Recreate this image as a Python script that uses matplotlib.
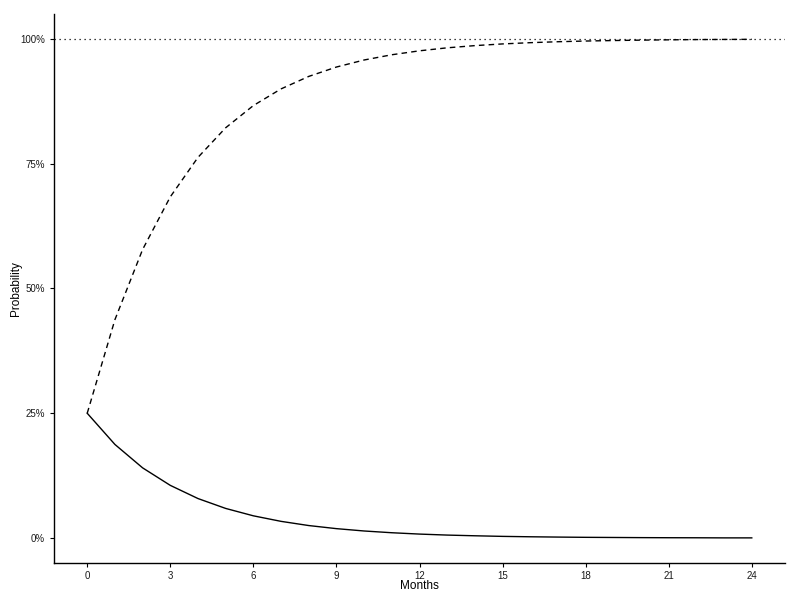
import matplotlib
matplotlib.use("Agg")
import matplotlib.pyplot as plt
from matplotlib.ticker import PercentFormatter

months = list(range(25))
solid_series = [0.25, 0.1875, 0.1406, 0.1055, 0.0791, 0.0593, 0.0445, 0.0334, 0.0250,
                0.0188, 0.0141, 0.0106, 0.0079, 0.0059, 0.0045, 0.0033, 0.0025, 0.0019,
                0.0014, 0.0011, 0.0008, 0.0006, 0.0005, 0.0003, 0.0003]
dashed_series = [0.25, 0.4375, 0.5781, 0.6836, 0.7627, 0.8220, 0.8665, 0.8999, 0.9249,
                 0.9437, 0.9578, 0.9683, 0.9762, 0.9822, 0.9866, 0.9900, 0.9925, 0.9944,
                 0.9958, 0.9968, 0.9976, 0.9982, 0.9987, 0.9990, 0.9992]
x_ticks = [0, 3, 6, 9, 12, 15, 18, 21, 24]
y_ticks = [0, 0.25, 0.5, 0.75, 1.0]
ref_level = 1.0

plt.rcParams['font.family'] = ['Liberation Sans', 'DejaVu Sans']
fig = plt.figure(figsize=(8, 6), dpi=100)
ax = fig.add_axes([0.0675, 0.0617, 0.91375, 0.915])

ax.axhline(ref_level, color='black', linestyle=(0, (1, 3)), linewidth=0.9)
ax.plot(months, solid_series, color='black', linewidth=1.0)
ax.plot(months, dashed_series, color='black', linewidth=1.0, linestyle=(0, (4, 3)))

ax.set_xlim(-1.2, 25.2)
ax.set_ylim(-0.05, 1.05)
ax.set_xticks(x_ticks)
ax.set_yticks(y_ticks)
ax.yaxis.set_major_formatter(PercentFormatter(1.0, decimals=0))
ax.tick_params(labelsize=7, length=3, width=0.8, colors='black', labelcolor='#1a1a1a')
ax.tick_params(axis='x', pad=2.5)
for s in ['top', 'right']:
    ax.spines[s].set_visible(False)
for s in ['left', 'bottom']:
    ax.spines[s].set_linewidth(1.0)
ax.set_xlabel('Months', fontsize=8.5, va='center')
ax.set_ylabel('Probability', fontsize=8.5, va='center')
ax.xaxis.set_label_coords(0.5, -0.042)
ax.yaxis.set_label_coords(-0.052, 0.5)

fig.savefig('out.png', dpi=100)
